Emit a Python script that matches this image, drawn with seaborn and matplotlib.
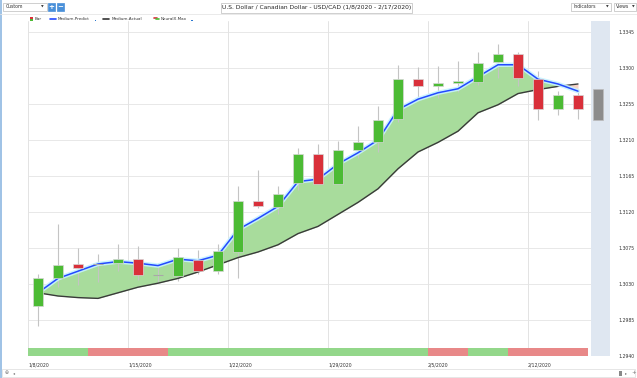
import numpy as np
import pandas as pd
import matplotlib
matplotlib.use("Agg")
import matplotlib.pyplot as plt
from matplotlib.patches import Rectangle
import seaborn as sns

# USD/CAD daily candles, 1/8/2020 - 2/14/2020, plus a forecast bar for 2/17
dates = ["1/8", "1/9", "1/10", "1/13", "1/14", "1/15", "1/16", "1/17", "1/20", "1/21",
         "1/22", "1/23", "1/24", "1/27", "1/28", "1/29", "1/30", "1/31", "2/3", "2/4",
         "2/5", "2/6", "2/7", "2/10", "2/11", "2/12", "2/13", "2/14"]
opens = [1.3003, 1.3038, 1.3055, 1.3055, 1.3056, 1.3061, 1.3041, 1.3040, 1.3060, 1.3046,
         1.3070, 1.3134, 1.3126, 1.3156, 1.3193, 1.3155, 1.3198, 1.3208, 1.3236, 1.3286,
         1.3277, 1.3281, 1.3283, 1.3308, 1.3317, 1.3286, 1.3249, 1.3266]
closes = [1.3038, 1.3054, 1.3050, 1.3055, 1.3061, 1.3041, 1.3041, 1.3064, 1.3046, 1.3071,
          1.3134, 1.3127, 1.3143, 1.3193, 1.3155, 1.3198, 1.3208, 1.3235, 1.3286, 1.3277,
          1.3281, 1.3284, 1.3306, 1.3317, 1.3287, 1.3249, 1.3266, 1.3249]
highs = [1.3043, 1.3105, 1.3075, 1.3067, 1.3080, 1.3078, 1.3056, 1.3075, 1.3073, 1.3080,
         1.3152, 1.3172, 1.3153, 1.3200, 1.3205, 1.3209, 1.3227, 1.3253, 1.3304, 1.3301,
         1.3303, 1.3309, 1.3320, 1.3330, 1.3320, 1.3296, 1.3271, 1.3270]
lows = [1.2977, 1.3026, 1.3029, 1.3032, 1.3046, 1.3035, 1.3032, 1.3034, 1.3043, 1.3043,
        1.3037, 1.3125, 1.3118, 1.3147, 1.3155, 1.3155, 1.3188, 1.3195, 1.3232, 1.3262,
        1.3263, 1.3270, 1.3279, 1.3288, 1.3277, 1.3235, 1.3241, 1.3236]
medium_predict = [1.3019, 1.3037, 1.3046, 1.3055, 1.3058, 1.3056, 1.3053, 1.3061, 1.3059, 1.3066,
                  1.3098, 1.3112, 1.3127, 1.3158, 1.3161, 1.3180, 1.3194, 1.3210, 1.3248, 1.3261,
                  1.3269, 1.3274, 1.3289, 1.3304, 1.3304, 1.3286, 1.3280, 1.3271]
medium_actual = [1.3019, 1.3015, 1.3013, 1.3012, 1.3019, 1.3026, 1.3031, 1.3037, 1.3045, 1.3054,
                 1.3063, 1.3070, 1.3079, 1.3093, 1.3102, 1.3117, 1.3132, 1.3149, 1.3174, 1.3195,
                 1.3207, 1.3221, 1.3244, 1.3254, 1.3268, 1.3273, 1.3277, 1.3280]
forecast_range = (1.3235, 1.3274)  # grey bar for 2/17
# NeuralX.Max strip: +1 green, -1 red per day
neuralx = [1, 1, 1, -1, -1, -1, -1, 1, 1, 1, 1, 1, 1, 1, 1, 1, 1, 1, 1, 1,
           -1, -1, 1, 1, -1, -1, -1, -1]
xtick_labels = ["1/8/2020", "1/15/2020", "1/22/2020", "1/29/2020", "2/5/2020", "2/12/2020"]
ytick_values = [1.2940, 1.2985, 1.3030, 1.3075, 1.3120, 1.3165, 1.3210, 1.3255, 1.3300, 1.3345]

df = pd.DataFrame({"date": dates, "open": opens, "close": closes, "high": highs, "low": lows,
                   "predict": medium_predict, "actual": medium_actual, "nx": neuralx})
df["i"] = np.arange(len(df))

sns.set_style("white")
plt.rcParams["font.family"] = ["DejaVu Sans"]

GREEN = "#4cbb34"
RED = "#d9303a"
GREY_WICK = "#c4c4c4"

fig = plt.figure(figsize=(6.37, 3.78), dpi=100)
ax = fig.add_axes([28 / 637, 22 / 378, 582 / 637, 335 / 378])

n = len(df)
ax.set_xlim(-0.5, n + 0.6)
ax.set_ylim(1.2940, 1.33587)

# grid
for y in ytick_values:
    ax.axhline(y, color="#e8e8e8", lw=0.7, zorder=0)
week_starts = [-0.5, 4.5, 9.5, 14.5, 19.5, 24.5]
for x in week_starts:
    ax.axvline(x, color="#e3e3e3", lw=0.7, zorder=0)

# forecast zone
ax.axvspan(n - 0.35, n + 0.6, color="#dfe7f1", zorder=0.5, lw=0)
ax.axvline(n + 0.6, color="#a9c6e8", lw=0.7, ls=(0, (1, 1)), zorder=1)

# fill between predict and actual
ax.fill_between(df["i"], df["predict"], df["actual"], where=df["predict"] >= df["actual"],
                interpolate=True, color="#a8dc9c", lw=0, zorder=1)
ax.fill_between(df["i"], df["predict"], df["actual"], where=df["predict"] < df["actual"],
                interpolate=True, color="#f6d3c6", lw=0, zorder=1)

# lines
sns.lineplot(data=df, x="i", y="actual", color="#3a3a3a", lw=1.0, ax=ax, zorder=3)
sns.lineplot(data=df, x="i", y="predict", color="#c6f2ff", lw=3.2, ax=ax, zorder=3,
             alpha=0.9)
sns.lineplot(data=df, x="i", y="predict", color="#2349ff", lw=1.1, ax=ax, zorder=4)

# candles
ax.vlines(df["i"], df["low"], df["high"], color=GREY_WICK, lw=0.8, zorder=2)
body_w = 0.52
for _, r in df.iterrows():
    lo, hi = min(r["open"], r["close"]), max(r["open"], r["close"])
    if hi - lo < 0.00005:
        ax.hlines(lo, r["i"] - body_w / 2, r["i"] + body_w / 2, color="#a8a8a8",
                  lw=0.8, zorder=5)
        continue
    col = GREEN if r["close"] > r["open"] else RED
    ax.bar(r["i"], hi - lo, bottom=lo, width=body_w, color=col,
           edgecolor="#d6d6d6", lw=0.5, zorder=5)
ax.bar(n, forecast_range[1] - forecast_range[0], bottom=forecast_range[0], width=body_w,
       color="#8c8c8c", edgecolor="#bdbdbd", lw=0.5, zorder=5)

# NeuralX.Max strip at the bottom
for _, r in df.iterrows():
    ax.bar(r["i"], 0.00100, bottom=1.2940, width=1.0,
           color="#93d78a" if r["nx"] > 0 else "#e88888", lw=0, zorder=2)

# axes styling
for s in ax.spines.values():
    s.set_visible(False)
ax.yaxis.tick_right()
ax.set_yticks(ytick_values)
ax.set_yticklabels([f"{v:.4f}" for v in ytick_values], fontsize=3.3, color="#333333")
ax.set_xticks(week_starts)
ax.set_xticklabels(xtick_labels, fontsize=3.3, color="#333333", ha="left")
ax.tick_params(length=0, pad=5)
ax.tick_params(axis="y", pad=6)
ax.set_xlabel("")
ax.set_ylabel("")

# chrome overlay in pixel coordinates
ov = fig.add_axes([0, 0, 1, 1], zorder=10)
ov.set_xlim(0, 637)
ov.set_ylim(378, 0)
ov.axis("off")
ov.patch.set_alpha(0)

def box(x0, y0, w, h, fc="white", ec="#bcbcbc"):
    ov.add_patch(Rectangle((x0, y0), w, h, fc=fc, ec=ec, lw=0.5))

ov.plot([0.6, 0.6], [0, 378], color="#8db8e2", lw=1.2)
ov.plot([0, 637], [13.5, 13.5], color="#e6e6e6", lw=0.6)
box(3, 2.5, 44, 8.5)
ov.text(6, 7, "Custom", fontsize=3.3, va="center", color="#333")
ov.text(44, 7, "\u25bc", fontsize=2.5, va="center", ha="right", color="#333")
box(47.5, 2.5, 7.5, 8.5, fc="#4a90d9", ec="#4a90d9")
ov.text(51.2, 6.8, "+", fontsize=5, va="center", ha="center", color="white", weight="bold")
box(56.5, 2.5, 7.5, 8.5, fc="#4a90d9", ec="#4a90d9")
ov.text(60.2, 6.8, "\u2212", fontsize=5, va="center", ha="center", color="white", weight="bold")
box(221, 2.5, 191, 10)
ov.text(316.5, 7.6, "U.S. Dollar / Canadian Dollar - USD/CAD (1/8/2020 - 2/17/2020)",
        fontsize=4.3, va="center", ha="center", color="#222")
box(571, 2.5, 40, 8.5)
ov.text(574, 7, "Indicators", fontsize=3.3, va="center", color="#333")
ov.text(609, 7, "\u25bc", fontsize=2.5, va="center", ha="right", color="#333")
box(614, 2.5, 22, 8.5)
ov.text(616, 7, "Views", fontsize=3.3, va="center", color="#333")
ov.text(634.5, 7, "\u25bc", fontsize=2.5, va="center", ha="right", color="#333")

# legend row
ov.add_patch(Rectangle((29.5, 16.5), 3.5, 4, fc=RED, lw=0))
ov.add_patch(Rectangle((29.5, 18.5), 3.5, 2, fc=GREEN, lw=0))
ov.text(35, 18.8, "Bar", fontsize=3, va="center", color="#333")
ov.plot([50, 56], [18.6, 18.6], color="#2349ff", lw=1.2)
ov.text(58, 18.8, "Medium.Predict", fontsize=3, va="center", color="#333")
ov.add_patch(Rectangle((94.5, 19.5), 1.6, 1.6, fc="#2b78d0", lw=0))
ov.plot([103, 109], [18.6, 18.6], color="#333", lw=1.2)
ov.text(111.5, 18.8, "Medium.Actual", fontsize=3, va="center", color="#333")
ov.plot([154, 157], [18.0, 18.0], color=RED, lw=1.2)
ov.plot([156, 159], [19.4, 19.4], color=GREEN, lw=1.2)
ov.text(161, 18.8, "NeuralX.Max", fontsize=3, va="center", color="#333")
ov.add_patch(Rectangle((191, 19.5), 1.6, 1.6, fc="#2b78d0", lw=0))

# bottom scrollbar
box(2, 369, 633, 8, ec="#dcdcdc")
ov.text(5, 373, "\u2295", fontsize=3.5, va="center", color="#777")
ov.text(13, 373, "\u25c2", fontsize=3, va="center", color="#777")
ov.add_patch(Rectangle((619, 370.5), 2.5, 5, fc="#888", lw=0))
ov.text(625, 373, "\u25b8", fontsize=3, va="center", color="#777")
ov.text(631, 373, "+", fontsize=4, va="center", color="#777")

fig.savefig("out.png", dpi=100)
